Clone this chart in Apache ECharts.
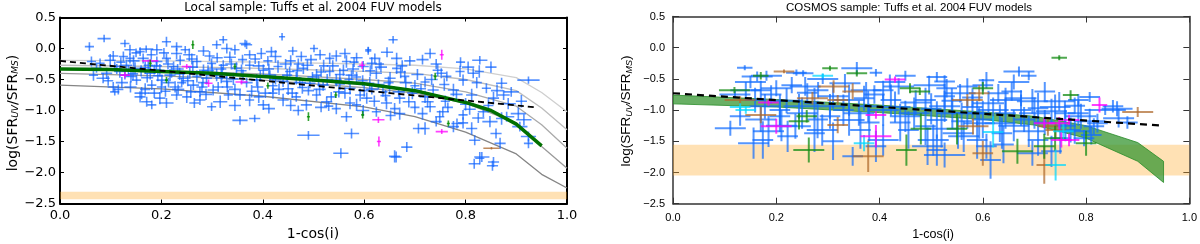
<!DOCTYPE html>
<html><head><meta charset="utf-8">
<script src="https://cdn.jsdelivr.net/npm/echarts@6/dist/echarts.min.js"></script>
<style>html,body{margin:0;padding:0;background:#fff}#c{width:1200px;height:244px}</style>
</head><body><div id="c"></div>
<script>
// ---------- tick labels ----------
const xTicks = [0.0, 0.2, 0.4, 0.6, 0.8, 1.0];
const yTicks = [-2.5, -2.0, -1.5, -1.0, -0.5, 0.0, 0.5];

// ---------- LEFT PANEL (local sample) ----------
const modelX = [0, 0.2, 0.4, 0.6, 0.7, 0.8, 0.9, 0.95, 1.0];
const grey1 = [-0.19, -0.20, -0.22, -0.25, -0.27, -0.33, -0.47, -0.71, -1.02];
const grey2 = [-0.27, -0.29, -0.32, -0.37, -0.40, -0.50, -0.68, -0.96, -1.31];
const grey3 = [-0.33, -0.36, -0.41, -0.50, -0.56, -0.70, -0.93, -1.23, -1.61];
const grey4 = [-0.40, -0.44, -0.51, -0.63, -0.72, -0.88, -1.20, -1.58, -1.93];
const grey5 = [-0.59, -0.65, -0.77, -0.94, -1.10, -1.35, -1.70, -2.03, -2.25];
const fitX = [0, 0.1, 0.2, 0.3, 0.4, 0.5, 0.6, 0.7, 0.8, 0.85, 0.9, 0.95];
const fitY = [-0.33, -0.34, -0.37, -0.40, -0.45, -0.51, -0.57, -0.68, -0.87, -1.0, -1.22, -1.57];
const leftLinX = [0, 0.94];
const leftLinY = [-0.20, -0.95];
const leftBand = [-2.43, -2.31];

// points: [x, y, xerr, yerr]
const leftBlue = [
[.058,.03,.009,.07],[.087,.16,.013,.06],[.128,.08,.009,.06],[.138,-.02,.011,.08],[.158,-.05,.009,.07],[.170,-.01,.014,.06],[.191,-.02,.011,.09],[.210,.11,.009,.08],[.230,.03,.011,.07],[.247,-.02,.009,.06],[.283,-.04,.011,.08],[.309,.06,.009,.07],[.322,.14,.008,.06],[.329,.00,.011,.08],
[.062,-.21,.009,.08],[.072,-.32,.011,.07],[.066,-.43,.009,.09],[.085,-.48,.013,.08],[.099,-.19,.011,.1],[.108,-.29,.009,.08],[.118,-.37,.011,.1],[.128,-.43,.009,.07],[.105,-.62,.011,.08],[.108,-.70,.009,.06],[.131,-.27,.011,.09],[.138,-.16,.009,.08],[.148,-.32,.011,.1],[.151,-.51,.009,.08],[.161,-.72,.014,.1],[.164,-.16,.011,.08],[.174,-.27,.009,.09],[.178,-.40,.011,.1],[.181,-.59,.009,.08],[.191,-.21,.011,.08],[.197,-.35,.009,.1],[.201,-.51,.011,.09],[.210,-.16,.009,.08],[.217,-.43,.011,.1],[.224,-.29,.009,.08],[.227,-.62,.011,.09],[.237,-.19,.009,.08],[.243,-.48,.011,.1],[.256,-.40,.009,.09],[.263,-.59,.011,.08],[.270,-.21,.009,.1],[.276,-.70,.011,.08],[.283,-.35,.009,.09],[.289,-.48,.011,.1],[.299,-.24,.009,.08],[.302,-.67,.011,.09],[.309,-.43,.009,.1],[.316,-.86,.014,.1],[.322,-.27,.009,.08],[.329,-.53,.011,.1],[.332,-.75,.009,.08],[.171,-.86,.011,.08],[.197,-.80,.011,.1],[.210,-.88,.014,.08],[.181,-.91,.009,.07],[.230,-.75,.011,.08],[.250,-.78,.009,.1],[.276,-.83,.011,.08],[.299,-.94,.009,.07],[.158,-.78,.011,.09],[.125,-.13,.009,.08],[.092,-.40,.011,.09],[.079,-.24,.009,.08],
[.12,-.22,.009,.08],[.14,-.45,.011,.1],[.16,-.36,.009,.09],[.19,-.28,.011,.08],[.20,-.62,.009,.1],[.22,-.38,.011,.09],[.24,-.55,.009,.08],[.26,-.17,.011,.09],[.27,-.45,.009,.1],[.28,-.62,.011,.08],[.30,-.33,.009,.09],[.31,-.15,.011,.08],[.32,-.40,.009,.1],[.33,-.62,.011,.09],[.18,-.10,.009,.08],[.23,-.08,.011,.09],[.15,-.07,.009,.07],
[.368,.06,.011,.07],[.438,.19,.006,.06],[.365,.08,.011,.06],[.345,-.02,.009,.08],[.374,-.10,.011,.07],[.397,-.08,.009,.09],[.417,-.05,.011,.08],[.459,-.04,.009,.07],[.476,-.13,.011,.08],[.501,.00,.008,.06],[.513,-.10,.011,.08],[.532,-.16,.009,.09],[.562,-.08,.011,.08],[.565,-.21,.009,.1],[.608,-.04,.006,.06],[.621,-.16,.011,.08],[.657,.14,.009,.06],[.664,-.16,.011,.09],
[.348,-.32,.009,.1],[.361,-.43,.011,.09],[.374,-.27,.009,.08],[.388,-.51,.011,.1],[.401,-.35,.009,.09],[.414,-.43,.011,.08],[.430,-.29,.009,.1],[.440,-.53,.011,.09],[.453,-.37,.009,.08],[.466,-.48,.011,.1],[.480,-.32,.009,.09],[.493,-.56,.011,.08],[.506,-.43,.009,.1],[.519,-.59,.011,.09],[.532,-.37,.009,.08],[.545,-.51,.011,.1],[.559,-.35,.009,.09],[.572,-.64,.011,.1],[.585,-.46,.009,.08],[.598,-.29,.011,.09],[.611,-.56,.009,.1],[.624,-.40,.011,.09],[.637,-.70,.009,.08],[.651,-.48,.011,.1],[.664,-.32,.009,.09],
[.355,-.75,.011,.08],[.374,-.83,.009,.1],[.401,-.91,.011,.08],[.420,-.72,.009,.09],[.440,-.83,.011,.1],[.466,-.78,.009,.08],[.486,-.91,.011,.09],[.506,-.75,.009,.1],[.526,-.86,.011,.08],[.545,-.97,.009,.09],[.565,-1.10,.011,.08],[.585,-.91,.009,.1],[.605,-.80,.011,.09],[.624,-1.02,.009,.08],[.644,-.88,.011,.1],[.660,-.97,.009,.09],
[.355,-1.16,.015,.07],[.384,-1.13,.011,.06],[.490,-1.40,.022,.07],[.575,-1.37,.015,.08],[.554,-1.69,.015,.08],[.660,-1.74,.011,.1],
[.36,-.18,.009,.08],[.39,-.62,.011,.09],[.41,-.20,.009,.08],[.45,-.65,.011,.1],[.47,-.25,.009,.09],[.49,-.68,.011,.08],[.52,-.28,.009,.1],[.55,-.70,.011,.09],[.58,-.22,.009,.08],[.60,-.68,.011,.1],[.63,-.25,.009,.09],[.65,-.62,.011,.08],[.42,-.60,.009,.1],[.51,-.52,.011,.09],[.57,-.50,.009,.08],[.62,-.85,.011,.09],[.47,-1.0,.011,.08],[.53,-.93,.009,.08],[.67,-1.05,.011,.1],
[.730,-.08,.011,.08],[.742,-.25,.011,.08],[.789,-.37,.009,.09],[.828,-.19,.015,.07],[.827,-.37,.009,.1],[.815,-.40,.011,.08],[.871,-.56,.011,.09],[.924,-.51,.022,.06],[.720,-.54,.009,.09],[.736,-.67,.011,.1],[.763,-.45,.009,.08],[.776,-.67,.011,.1],[.795,-.51,.009,.09],[.812,-.75,.011,.1],[.841,-.64,.009,.08],[.855,-.80,.011,.1],[.884,-.89,.015,.09],[.904,-1.05,.015,.1],[.871,-1.13,.011,.1],[.848,-1.18,.015,.09],[.812,-1.29,.011,.1],[.818,-1.48,.011,.08],[.828,-1.77,.009,.1],[.855,-1.83,.011,.08],[.868,-1.53,.011,.09],[.924,-1.53,.009,.08],[.881,-1.10,.015,.08],[.730,-.94,.011,.09],[.749,-1.10,.009,.1],[.776,-1.26,.011,.09],[.795,-1.07,.009,.08],[.835,-1.02,.011,.09],[.720,-1.29,.009,.1],
[.70,-.60,.009,.09],[.72,-.78,.011,.1],[.76,-.85,.009,.09],[.80,-.90,.011,.1],[.79,-.22,.009,.08],[.85,-.30,.011,.09],[.89,-.70,.015,.08],[.91,-.85,.011,.1],[.68,-.45,.009,.09],[.69,-.20,.011,.08],[.70,-.95,.009,.1],[.67,-.80,.011,.09],[.742,-1.18,.011,.08],[.783,-1.21,.011,.08],[.915,-1.15,.015,.09],[.907,-1.26,.015,.08],[.924,-1.42,.015,.08],[.860,-1.37,.011,.08],[.832,-1.75,.015,.08],[.817,-1.86,.011,.08],[.853,-1.89,.011,.08],[.684,-1.59,.011,.08],[.663,-1.75,.011,.09],[.707,-1.29,.011,.08],[.608,-.02,.006,.05],
[.105,-.12,.01,.08],[.145,-.20,.012,.09],[.205,-.07,.01,.08],[.255,-.10,.012,.1],[.295,-.12,.01,.08],[.335,-.14,.012,.09],[.385,-.17,.01,.08],[.425,-.13,.012,.1],[.455,-.20,.01,.09],[.495,-.18,.012,.08],[.545,-.12,.01,.09],[.585,-.15,.012,.08],[.615,-.24,.01,.1],[.645,-.06,.012,.08],[.675,-.28,.01,.09],[.715,-.18,.012,.08],[.745,-.35,.01,.1],
[.112,-.33,.01,.08],[.135,-.36,.012,.09],[.168,-.31,.01,.1],[.186,-.34,.012,.08],[.213,-.25,.01,.09],[.232,-.33,.012,.08],[.262,-.30,.01,.1],[.292,-.36,.012,.09],[.318,-.33,.01,.08],[.338,-.25,.012,.09],[.358,-.36,.01,.1],[.392,-.28,.012,.08],[.412,-.33,.01,.09],[.445,-.25,.012,.08],[.468,-.36,.01,.1],[.488,-.27,.012,.09],[.515,-.38,.01,.08],[.538,-.28,.012,.09],[.552,-.42,.01,.1],[.578,-.33,.012,.08],[.612,-.36,.01,.09],[.633,-.30,.012,.08],[.672,-.38,.01,.1],[.705,-.42,.012,.09],[.752,-.40,.01,.08],[.805,-.30,.012,.09],
[.095,-.52,.01,.08],[.122,-.55,.012,.09],[.144,-.41,.01,.1],[.172,-.47,.012,.08],[.193,-.44,.01,.09],[.214,-.55,.012,.08],[.236,-.41,.01,.1],[.252,-.52,.012,.09],[.282,-.55,.01,.08],[.318,-.47,.012,.09],[.342,-.49,.01,.1],[.368,-.55,.012,.08],[.395,-.44,.01,.09],[.425,-.50,.012,.08],[.448,-.43,.01,.1],[.473,-.55,.012,.09],[.498,-.46,.01,.08],[.527,-.50,.012,.09],[.552,-.57,.01,.1],[.575,-.43,.012,.08],[.597,-.52,.01,.09],[.628,-.58,.012,.08],[.648,-.55,.01,.1],[.682,-.55,.012,.09],[.712,-.65,.01,.08],[.733,-.50,.012,.09],[.758,-.58,.01,.1],[.782,-.74,.012,.08],[.822,-.55,.01,.09],[.862,-.68,.012,.1],
[.115,-.66,.01,.08],[.139,-.62,.012,.09],[.168,-.66,.01,.1],[.186,-.72,.012,.08],[.208,-.69,.01,.09],[.233,-.66,.012,.08],[.258,-.70,.01,.1],[.288,-.74,.012,.09],[.312,-.62,.01,.08],[.345,-.66,.012,.09],[.378,-.69,.01,.1],[.405,-.72,.012,.08],[.432,-.66,.01,.09],[.458,-.72,.012,.08],[.478,-.63,.01,.1],[.512,-.66,.012,.09],[.535,-.78,.01,.08],[.562,-.72,.012,.09],[.592,-.75,.01,.1],[.615,-.66,.012,.08],[.642,-.76,.01,.09],[.668,-.70,.012,.08],[.695,-.72,.01,.1],[.725,-.86,.012,.09],[.765,-.95,.01,.08],[.808,-.98,.012,.09],[.845,-.92,.01,.1],[.875,-.75,.012,.08],
[.265,-.88,.01,.08],[.345,-.92,.012,.09],[.392,-.78,.01,.1],[.412,-.97,.012,.08],[.455,-.92,.01,.09],[.515,-.95,.012,.08],[.572,-.88,.01,.1],[.598,-1.0,.012,.09],[.652,-1.08,.01,.08],[.688,-.86,.012,.09],[.715,-1.05,.01,.1],[.755,-1.02,.012,.08],[.795,-1.2,.01,.09],[.825,-1.12,.012,.08]
];
const leftMagenta = [[.128,-.43,.01,.05],[.178,-.20,.016,.03],[.250,-.29,.01,.04],[.293,-.56,.008,.06],[.358,-.54,.012,.04],[.596,-.27,.006,.06],[.628,-1.15,.012,.05],[.629,-1.50,.004,.08],[.753,-.10,.004,.08],[.753,-1.34,.012,.04]];
const leftGreen = [[.262,.06,.003,.07],[.178,-.24,.003,.06],[.210,-.51,.003,.05],[.345,-.29,.003,.05],[.490,-1.10,.003,.07],[.597,-1.07,.003,.06],[.544,-.75,.003,.05],[.740,-.45,.003,.06],[.766,-1.21,.003,.05],[.41,-.60,.003,.05]];
const leftBrown = [[.851,-1.61,.016,.02]];

// ---------- RIGHT PANEL (COSMOS sample) ----------
const rightLinX = [0, 0.95];
const rightLinY = [-0.73, -1.25];
const rightBand = [-2.05, -1.555];
const modelBandX = [0, 0.2, 0.4, 0.6, 0.7, 0.8, 0.9, 0.95];
const modelBandTop = [-0.76, -0.83, -0.92, -1.03, -1.10, -1.25, -1.52, -1.82];
const modelBandBot = [-0.90, -0.95, -1.04, -1.15, -1.24, -1.45, -1.82, -2.16];

const rightBlue = [
[.139,-.32,.015,.04],[.163,-.46,.03,.08],[.181,-.45,.03,.08],[.239,-.40,.02,.05],[.252,-.41,.02,.05],[.356,-.33,.03,.1],[.393,-.40,.012,.06],[.511,-.47,.02,.08],[.526,-.54,.02,.1],[.607,-.52,.015,.13],[.670,-.38,.03,.08],[.689,-.45,.015,.07],[.785,-.84,.02,.1],[.807,-.79,.02,.08],[.863,-1.13,.03,.15],[.852,-.94,.02,.1],[.778,-.93,.02,.13],[.748,-.86,.03,.15],[.759,-1.05,.02,.2],[.674,-.81,.03,.13],[.656,-.70,.02,.15],[.696,-.86,.03,.2],[.707,-.97,.02,.25],[.733,-1.02,.03,.2],[.796,-1.45,.02,.13],[.778,-1.34,.03,.2],[.707,-1.48,.02,.25],[.696,-1.69,.03,.2],[.733,-1.66,.02,.25],[.607,-1.58,.02,.2],[.593,-1.21,.03,.25],[.589,-1.05,.02,.2],[.630,-.73,.02,.15],[.611,-.89,.03,.2],[.644,-1.05,.02,.25],[.633,-1.21,.03,.3],[.637,-1.37,.02,.25],[.552,-1.37,.03,.25],[.559,-1.18,.02,.3],[.541,-1.05,.03,.25],[.511,-1.16,.02,.3],[.504,-1.48,.03,.25],[.526,-1.72,.04,.2],[.511,-1.64,.02,.25],[.493,-1.58,.03,.3],[.456,-1.32,.02,.3],[.467,-1.05,.03,.25],[.489,-.84,.02,.2],[.437,-.62,.03,.13],[.422,-.84,.02,.25],[.407,-1.00,.03,.25],[.348,-1.74,.02,.15],[.393,-1.58,.02,.25],[.407,-1.48,.03,.25],[.363,-1.32,.02,.3],[.341,-1.16,.03,.25],[.304,-1.10,.02,.2],[.289,-1.32,.03,.25],[.274,-1.37,.02,.3],[.237,-1.26,.03,.2],[.222,-1.42,.02,.25],[.185,-1.34,.03,.25],[.174,-1.48,.02,.3],[.156,-1.53,.03,.25],[.111,-1.29,.03,.12],[.159,-.84,.02,.2],[.141,-.68,.03,.13],[.170,-.68,.02,.15],[.200,-.65,.03,.13],[.230,-.60,.02,.13],[.256,-.62,.03,.15],[.281,-.68,.02,.13],[.333,-.57,.03,.15],[.370,-.81,.02,.2],[.341,-.84,.03,.25],[.378,-.94,.02,.25],[.304,-.94,.03,.2],[.274,-.89,.02,.25],[.244,-.94,.03,.2],[.207,-1.00,.02,.25],[.178,-.94,.03,.2],[.207,-1.10,.02,.25],[.374,-.68,.03,.13],[.407,-.68,.02,.15],[.496,-.60,.03,.15],[.526,-.78,.02,.2],[.556,-.73,.03,.15],[.570,-.62,.02,.13],[.526,-.94,.03,.25],[.489,-1.26,.02,.3],[.563,-1.42,.03,.25],[.589,-1.48,.02,.3],[.615,-1.80,.02,.3],[.644,-.84,.03,.2],[.674,-1.00,.02,.25],[.689,-1.34,.03,.25],[.785,-1.05,.02,.2],[.807,-1.18,.03,.2],[.815,-1.26,.02,.13],[.837,-1.00,.04,.08],[.822,-1.21,.02,.15],[.770,-1.32,.02,.2],
[.12,-.75,.03,.06],[.29,-.50,.03,.08],[.45,-.45,.02,.08],[.58,-.95,.02,.2],[.60,-.60,.02,.1],[.72,-1.20,.02,.2],[.75,-1.45,.02,.25],
[.15,-.55,.03,.1],[.19,-.75,.02,.15],[.22,-.85,.03,.2],[.26,-.72,.02,.15],[.31,-.78,.03,.2],[.33,-1.00,.02,.25],[.36,-1.05,.03,.2],[.39,-.75,.02,.15],[.43,-.95,.03,.25],[.44,-1.20,.02,.3],[.47,-.88,.03,.2],[.50,-.98,.02,.25],[.52,-1.30,.03,.3],[.54,-.85,.02,.2],[.57,-1.05,.03,.25],[.60,-1.15,.02,.3],[.62,-1.00,.03,.2],[.64,-1.55,.02,.3],[.66,-1.25,.03,.25],[.68,-1.15,.02,.2],[.70,-1.05,.03,.25],[.72,-.70,.02,.15],[.74,-.95,.03,.2],[.76,-1.25,.02,.25],[.79,-1.10,.03,.2],[.81,-1.40,.02,.15],[.86,-.98,.03,.12],[.88,-1.20,.02,.1],[.25,-1.05,.03,.25],[.28,-1.15,.02,.3],[.17,-1.15,.03,.2],[.13,-1.10,.02,.15],[.21,-1.25,.03,.25],[.31,-1.50,.02,.3],[.45,-1.10,.03,.25],[.58,-.80,.02,.15],[.66,-.55,.03,.12],[.53,-.65,.02,.15],[.42,-.55,.03,.12],[.38,-1.20,.02,.3]
];
const rightGreen = [[.304,-.33,.015,.04],[.356,-.41,.02,.05],[.748,-.16,.015,.04],[.770,-.76,.015,.08],[.800,-1.53,.02,.2],[.719,-1.58,.02,.2],[.667,-1.66,.03,.2],[.600,-.65,.02,.1],[.478,-.70,.02,.06],[.459,-.65,.02,.08],[.452,-1.64,.02,.25],[.263,-1.64,.03,.2],[.244,-1.18,.02,.13],[.119,-.68,.03,.05],[.259,-1.10,.02,.1],[.170,-.45,.015,.06],[.48,-1.30,.02,.25],[.55,-1.30,.02,.25],[.74,-1.45,.02,.2]];
const rightBrown = [[.215,-.38,.02,.03],[.311,-.62,.03,.1],[.348,-.70,.02,.13],[.319,-1.24,.02,.13],[.378,-1.74,.03,.25],[.170,-1.08,.03,.13],[.130,-.84,.03,.06],[.270,-.81,.03,.1],[.319,-.84,.02,.08],[.600,-1.69,.02,.2],[.581,-1.26,.03,.13],[.570,-.84,.03,.1],[.593,-.73,.02,.13],[.741,-1.32,.02,.13],[.719,-1.88,.015,.3],[.900,-1.03,.03,.08],[.726,-1.26,.02,.15]];
const rightMagenta = [[.430,-.51,.02,.05],[.826,-.92,.015,.12],[.719,-1.21,.02,.08],[.748,-1.21,.02,.1],[.767,-1.16,.02,.08],[.752,-1.48,.02,.12],[.767,-1.48,.02,.1],[.393,-1.08,.02,.06],[.393,-1.42,.03,.18],[.200,-1.26,.03,.12],[.185,-.88,.02,.05]];
const rightCyan = [[.141,-1.00,.02,.06],[.370,-1.53,.02,.13],[.741,-1.88,.02,.25],[.756,-1.34,.02,.13],[.29,-.45,.02,.04],[.13,-.95,.02,.06],[.62,-1.35,.02,.25]];

// ---------- chart ----------
const chart = echarts.init(document.getElementById('c'), null, {renderer: 'canvas'});
const fmt = v => (v < -1e-9 ? '\u2212' : '') + Math.abs(v).toFixed(1);
const zip = (xs, ys) => xs.map((x, i) => [x, ys[i]]);

function crossSeries(data, color, gi, lw, z) {
  return {
    type: 'custom', xAxisIndex: gi * 2, yAxisIndex: gi * 2, data: data, z: z, clip: true,
    renderItem: function (params, api) {
      const x = api.value(0), y = api.value(1), xe = api.value(2), ye = api.value(3);
      const a = api.coord([x - xe, y]), b = api.coord([x + xe, y]);
      const c = api.coord([x, y - ye]), d = api.coord([x, y + ye]);
      return {type: 'group', children: [
        {type: 'line', shape: {x1: a[0], y1: a[1], x2: b[0], y2: b[1]}, style: {stroke: color, lineWidth: lw}},
        {type: 'line', shape: {x1: c[0], y1: c[1], x2: d[0], y2: d[1]}, style: {stroke: color, lineWidth: lw}}
      ]};
    }
  };
}
function bandSeries(range, color, gi) {
  return {
    type: 'custom', xAxisIndex: gi * 2, yAxisIndex: gi * 2, data: [[0, 1, range[0], range[1]]], z: 1, clip: true,
    renderItem: function (params, api) {
      const p0 = api.coord([api.value(0), api.value(3)]);
      const p1 = api.coord([api.value(1), api.value(2)]);
      return {type: 'rect', shape: {x: p0[0], y: p0[1], width: p1[0] - p0[0], height: p1[1] - p0[1]}, style: {fill: color}};
    }
  };
}
function lineSeries(xs, ys, color, width, gi, z, dash) {
  return {
    type: 'line', xAxisIndex: gi * 2, yAxisIndex: gi * 2, data: zip(xs, ys), showSymbol: false, symbol: 'none',
    z: z, silent: true,
    lineStyle: {color: color, width: width, type: dash || 'solid'}
  };
}

function axisSet(gi, font, size, lineColor, lineW, tickLen, xMargin, yMargin) {
  const common = {
    type: 'value', gridIndex: gi,
    axisLine: {show: true, onZero: false, lineStyle: {color: lineColor, width: lineW}},
    axisTick: {show: true, inside: true, length: tickLen, lineStyle: {color: lineColor, width: 1}},
    splitLine: {show: false}
  };
  const lab = (m) => ({show: true, fontFamily: font, fontSize: size, color: '#000', formatter: fmt, margin: m});
  const xs = [
    Object.assign({}, common, {position: 'bottom', min: xTicks[0], max: xTicks[xTicks.length - 1], interval: 0.2, axisLabel: lab(xMargin)}),
    Object.assign({}, common, {position: 'top', min: xTicks[0], max: xTicks[xTicks.length - 1], interval: 0.2, axisLabel: {show: false}})
  ];
  const ys = [
    Object.assign({}, common, {position: 'left', min: yTicks[0], max: yTicks[yTicks.length - 1], interval: 0.5, axisLabel: lab(yMargin)}),
    Object.assign({}, common, {position: 'right', min: yTicks[0], max: yTicks[yTicks.length - 1], interval: 0.5, axisLabel: {show: false}})
  ];
  return {xs, ys};
}
const aL = axisSet(0, 'DejaVu Sans', 13, '#000', 2, 4, 6, 4);
const aR = axisSet(1, 'Liberation Sans', 11, '#333', 1.5, 6, 9, 8);
const xAxes = [aL.xs[0], aL.xs[1], aR.xs[0], aR.xs[1]];
const yAxes = [aL.ys[0], aL.ys[1], aR.ys[0], aR.ys[1]];

const series = [
  bandSeries(leftBand, 'rgba(255,170,40,0.35)', 0),
  lineSeries(modelX, grey1, '#cfcfcf', 1.3, 0, 2),
  lineSeries(modelX, grey2, '#bdbdbd', 1.3, 0, 2),
  lineSeries(modelX, grey3, '#aaaaaa', 1.3, 0, 2),
  lineSeries(modelX, grey4, '#9a9a9a', 1.3, 0, 2),
  lineSeries(modelX, grey5, '#858585', 1.3, 0, 2),
  crossSeries(leftBlue, 'rgba(15,100,255,0.7)', 0, 1.6, 3),
  crossSeries(leftMagenta, 'rgba(255,0,255,0.75)', 0, 1.6, 3),
  crossSeries(leftGreen, 'rgba(0,140,0,0.8)', 0, 1.6, 3),
  crossSeries(leftBrown, 'rgba(170,100,40,0.75)', 0, 1.6, 3),
  lineSeries(fitX, fitY, '#007000', 3.5, 0, 5),
  lineSeries(leftLinX, leftLinY, '#000', 1.8, 0, 6, [6, 4]),

  bandSeries(rightBand, 'rgba(255,170,40,0.35)', 1),
  {
    type: 'custom', xAxisIndex: 2, yAxisIndex: 2, data: [[0]], z: 2, clip: true,
    renderItem: function (params, api) {
      const pts = [];
      modelBandX.forEach((x, i) => pts.push(api.coord([x, modelBandTop[i]])));
      for (let i = modelBandX.length - 1; i >= 0; i--) pts.push(api.coord([modelBandX[i], modelBandBot[i]]));
      return {type: 'polygon', shape: {points: pts}, style: {fill: 'rgba(55,150,50,0.75)', stroke: 'rgba(40,140,40,0.8)', lineWidth: 1}};
    }
  },
  crossSeries(rightBlue, 'rgba(20,110,255,0.72)', 1, 2, 3),
  crossSeries(rightBrown, 'rgba(175,105,45,0.72)', 1, 2, 3),
  crossSeries(rightGreen, 'rgba(20,140,20,0.75)', 1, 2, 3),
  crossSeries(rightCyan, 'rgba(0,215,255,0.72)', 1, 2, 3),
  crossSeries(rightMagenta, 'rgba(255,0,255,0.75)', 1, 2, 3),
  lineSeries(rightLinX, rightLinY, '#000', 2.2, 1, 6, [7, 5])
];

const ylabRich = (fs, ss, fam) => ({
  n: {fontSize: fs, fontFamily: fam, lineHeight: fs + 4, verticalAlign: 'bottom', fill: '#000'},
  s: {fontSize: ss, fontFamily: fam, fontStyle: 'italic', lineHeight: ss, verticalAlign: 'bottom', fill: '#000'}
});
const ylabText = '{n|log(SFR}{s|UV}{n|/SFR}{s|MS}{n|)}';

chart.setOption({
  animation: false,
  backgroundColor: '#fff',
  grid: [
    {left: 60, right: 633, top: 17.5, bottom: 40.5, containLabel: false},
    {left: 673, right: 9.5, top: 16.5, bottom: 40.3, containLabel: false}
  ],
  xAxis: xAxes,
  yAxis: yAxes,
  series: series,
  graphic: [
    {type: 'text', x: 313, y: 8, style: {text: 'Local sample: Tuffs et al. 2004 FUV models', fontFamily: 'DejaVu Sans', fontSize: 12, fill: '#000', align: 'center', verticalAlign: 'middle'}},
    {type: 'text', x: 909, y: 8, style: {text: 'COSMOS sample: Tuffs et al. 2004 FUV models', fontFamily: 'Liberation Sans', fontSize: 11.5, fill: '#000', align: 'center', verticalAlign: 'middle'}},
    {type: 'text', x: 313, y: 234, style: {text: '1-cos(i)', fontFamily: 'DejaVu Sans', fontSize: 14, fill: '#000', align: 'center', verticalAlign: 'middle'}},
    {type: 'text', x: 933, y: 235, style: {text: '1-cos(i)', fontFamily: 'Liberation Sans', fontSize: 12.5, fill: '#000', align: 'center', verticalAlign: 'middle'}},
    {type: 'text', x: 11, y: 113, rotation: Math.PI / 2, style: {text: ylabText, rich: ylabRich(14, 9, 'DejaVu Sans'), align: 'center', verticalAlign: 'middle'}},
    {type: 'text', x: 625, y: 111, rotation: Math.PI / 2, style: {text: ylabText, rich: ylabRich(13.5, 9, 'Liberation Sans'), align: 'center', verticalAlign: 'middle'}}
  ]
});
</script>
</body></html>
